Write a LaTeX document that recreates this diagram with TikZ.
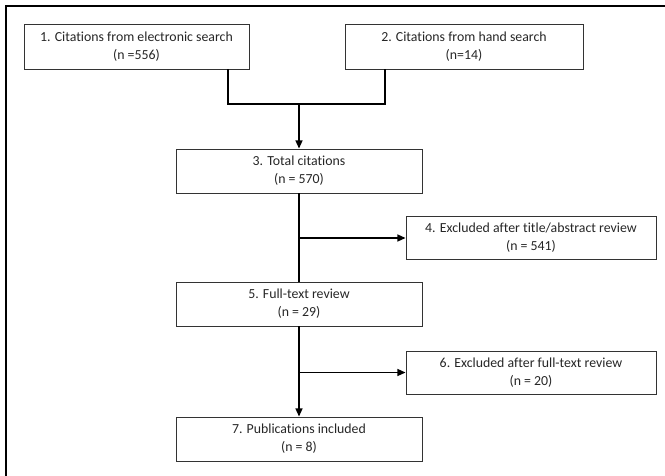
\documentclass[tikz,border=0pt]{standalone}
\usepackage{fontspec}
\setmainfont{Carlito}[Ligatures=NoCommon]
\usetikzlibrary{arrows.meta}

\tikzset{
  stage/.style={draw=black!80, line width=0.8pt, align=center, inner sep=2pt,
    font=\fontsize{11.8}{15.5}\selectfont, text=black!85},
  link/.style={line width=1.3pt},
  flow/.style={link, -{Triangle[length=7pt,width=6pt]}}
}

\begin{document}
\begin{tikzpicture}[x=0.03cm, y=-0.03cm]
  % Define parameters
  \def\px{0.03cm}      % one pixel of the layout
  \def\mainX{299}      % column of the main flow
  \def\sideX{531}      % column of the excluded boxes

  \useasboundingbox (0,0) rectangle (665,476);

  % frame (only top and left edges show)
  \draw[line width=1.8pt] (6,476) -- (6,6) -- (665,6);

  %% Sources
  \node[stage, minimum width=225*\px, minimum height=45*\px] (src1) at (136.5,46.5)
    {1. Citations from electronic search\\(n =556)};
  \node[stage, minimum width=238*\px, minimum height=45*\px] (src2) at (464,46.5)
    {2. Citations from hand search\\(n=14)};

  %% Main flow
  \node[stage, minimum width=246*\px, minimum height=44*\px] (total) at (\mainX,171)
    {3. Total citations\\(n = 570)};
  \node[stage, minimum width=246*\px, minimum height=44*\px] (fulltext) at (\mainX,304)
    {5. Full-text review\\(n = 29)};
  \node[stage, minimum width=246*\px, minimum height=44*\px] (included) at (\mainX,439)
    {7. Publications included\\(n = 8)};

  %% Excluded
  \node[stage, minimum width=250*\px, minimum height=43*\px] (excl1) at (\sideX,238)
    {4. Excluded after title/abstract review\\(n = 541)};
  \node[stage, minimum width=250*\px, minimum height=43*\px] (excl2) at (\sideX,372.5)
    {6. Excluded after full-text review\\(n = 20)};

  % joining the two sources
  \coordinate (join1) at (228,104);
  \coordinate (join2) at (385,104);
  \coordinate (join) at (\mainX,104);
  \draw[link] (src1.south -| join1) -- (join1) -- (join2) -- (src2.south -| join2);
  \draw[flow] (join) -- (total.north);

  % screening steps
  \draw[link] (total) -- (fulltext);
  \draw[flow] (total.south |- excl1.west) -- (excl1.west);
  \draw[flow] (fulltext) -- (included);
  \draw[flow] (fulltext.south |- excl2.west) -- (excl2.west);
\end{tikzpicture}
\end{document}
